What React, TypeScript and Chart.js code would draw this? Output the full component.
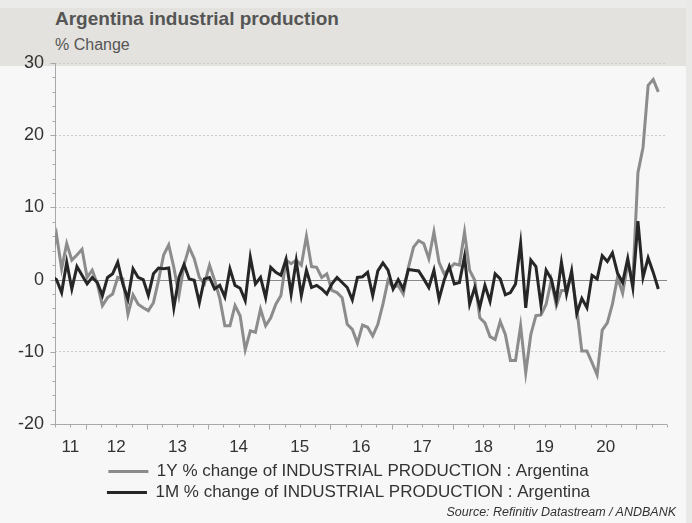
import React, { useEffect, useRef } from 'react';
import { Chart, registerables } from 'chart.js';

Chart.register(...registerables);

const titleText = 'Argentina industrial production';
const subtitleText = '% Change';
const sourceText = 'Source: Refinitiv Datastream / ANDBANK';
const seriesNames = [
  '1Y % change of INDUSTRIAL PRODUCTION : Argentina',
  '1M % change of INDUSTRIAL PRODUCTION : Argentina',
];

// monthly observations, first = June 2011
const startYear = 2011;
const startMonth = 6;

const yoyChange = [
  // 2011 Jun-Dec
  3.0, 6.2, 1.5, 5.0, 2.7, 3.4, 4.2,
  // 2012
  0.3, 1.3, -0.6, -3.6, -2.5, -2.0, 0.3, 0.1, -4.8, -2.1, -3.4, -3.9,
  // 2013
  -4.3, -3.2, -0.1, 3.4, 4.8, 1.7, -2.2, 2.0, 4.5, 2.9, 0.3, -0.6,
  // 2014
  2.0, -0.1, -2.6, -6.4, -6.4, -3.6, -5.0, -9.7, -7.1, -7.3, -4.1, -6.4,
  // 2015
  -5.3, -3.4, -2.2, 2.7, 2.2, 2.7, 2.0, 6.0, 1.8, 1.7, 0.3, 0.8,
  // 2016
  -1.5, -1.8, -2.5, -6.2, -6.9, -8.8, -6.3, -6.6, -7.8, -6.2, -3.4, -0.1,
  // 2017
  -1.1, -0.8, -2.0, 1.7, 4.5, 5.4, 5.0, 2.9, 6.6, 2.4, 0.8, 1.5,
  // 2018
  2.2, 2.0, 6.6, 1.3, -0.1, -5.3, -6.0, -7.9, -8.3, -5.8, -7.6, -11.2,
  // 2019
  -11.2, -6.4, -12.9, -7.6, -5.0, -4.9, -3.4, -0.1, -3.6, -1.5, -1.5, 0.8,
  // 2020
  -4.0, -9.9, -9.9, -11.5, -13.2, -7.0, -6.0, -3.4, 0.3, -1.9, 2.2, -0.1,
  // 2021 Jan-May
  14.8, 18.3, 26.9, 27.7, 26.0,
];

const momChange = [
  // 2011 Jun-Dec
  0.5, 0.0, -1.8, 2.4, -1.3, 1.8, 0.6,
  // 2012
  -0.6, 0.3, -0.4, -2.2, 0.3, 0.8, 2.4, -0.6, -2.7, 1.5, 0.3, 0.0,
  // 2013
  -2.2, 0.8, 1.6, 1.5, 1.6, -3.9, 0.3, 2.1, 0.1, -0.1, -3.2, 0.1,
  // 2014
  0.3, -1.3, -0.8, -2.4, 1.5, -0.8, -1.2, -2.9, 3.1, -0.6, 0.3, -2.5,
  // 2015
  1.7, 1.0, 0.6, 2.8, -2.0, 2.6, -2.2, 1.3, -1.1, -0.8, -1.3, -2.0,
  // 2016
  -0.6, 0.3, -0.4, -1.1, -2.8, 0.3, 0.4, 1.0, -2.2, 1.2, 2.3, 1.3,
  // 2017
  -1.3, 0.0, -1.3, 1.4, 1.3, 1.2, 0.1, -1.1, 1.3, -2.7, -0.1, 1.8,
  // 2018
  -0.6, -0.4, 3.2, -3.4, -1.1, -3.8, -0.8, -3.0, 0.8, 0.1, -2.1, -1.8,
  // 2019
  -0.6, 5.0, -3.9, 2.7, 1.8, -3.6, 1.3, 0.1, -2.9, 2.4, -2.0, 1.2,
  // 2020
  -4.7, -2.6, -3.9, 0.6, 0.1, 3.3, 2.5, 3.7, 0.9, -0.4, 2.9, -1.1,
  // 2021 Jan-May
  8.1, 0.3, 3.0, 1.0, -1.3,
];

const yearLabels = ['11', '12', '13', '14', '15', '16', '17', '18', '19', '20'];
const yearLabelPos = [2011.75, 2012.5, 2013.5, 2014.5, 2015.5, 2016.5, 2017.5, 2018.5, 2019.5, 2020.5];
const xMin = 2011.5;
const xMax = 2021.5;
const yMin = -20;
const yMax = 30;

const FONT = "'Liberation Sans', Arial, sans-serif";
const GRAY = '#8c8c8c';
const BLACK = '#262626';
const LEGEND_SHIFT = 15;

const monthX = (i: number) => startYear + (startMonth - 1 + i) / 12 + 0.025;

const axisPlugin = {
  id: 'axisDecor',
  afterLayout(chart: any) {
    const lg = chart.legend;
    if (lg) {
      lg.left += LEGEND_SHIFT;
      lg.right += LEGEND_SHIFT;
    }
  },
  beforeDatasetsDraw(chart: any) {
    const { ctx, chartArea: a, scales } = chart;
    const x = scales.x;
    const y = scales.y;
    const line = (x1: number, y1: number, x2: number, y2: number) => {
      ctx.beginPath();
      ctx.moveTo(x1, y1);
      ctx.lineTo(x2, y2);
      ctx.stroke();
    };
    ctx.save();
    ctx.lineWidth = 1;
    ctx.strokeStyle = '#8a8a8a';
    const y0 = Math.round(y.getPixelForValue(0)) + 0.5;
    line(a.left, y0, a.right, y0);
    ctx.strokeStyle = '#a8a8a8';
    const xl = Math.round(a.left) + 0.5;
    line(xl, a.top, xl, a.bottom);
    for (let v = yMin; v <= yMax; v += 2) {
      const py = Math.round(y.getPixelForValue(v)) + 0.5;
      const len = v % 10 === 0 ? 5 : 3;
      line(xl - len, py, xl, py);
    }
    const yb = Math.round(a.bottom) + 0.5;
    line(a.left, yb, a.right, yb);
    for (let q = Math.ceil(xMin * 4); q <= Math.floor(xMax * 4); q++) {
      const v = q / 4;
      const px = Math.round(x.getPixelForValue(v)) + 0.5;
      const len = q % 4 === 0 ? 5 : 3;
      line(px, yb, px, yb + len);
    }
    ctx.restore();
  },
};

function App() {
  const canvasRef = useRef<HTMLCanvasElement | null>(null);

  useEffect(() => {
    const canvas = canvasRef.current;
    if (!canvas) return;
    const chart = new Chart(canvas, {
      type: 'line',
      data: {
        datasets: [
          {
            label: seriesNames[0],
            data: yoyChange.map((v, i) => ({ x: monthX(i), y: v })),
            borderColor: GRAY,
            backgroundColor: GRAY,
            borderWidth: 3,
            pointRadius: 0,
            tension: 0,
            order: 2,
          },
          {
            label: seriesNames[1],
            data: momChange.map((v, i) => ({ x: monthX(i), y: v })),
            borderColor: BLACK,
            backgroundColor: BLACK,
            borderWidth: 3,
            pointRadius: 0,
            tension: 0,
            order: 1,
          },
        ],
      },
      options: {
        animation: false,
        responsive: false,
        maintainAspectRatio: false,
        layout: { padding: { top: 63, left: 0, right: 25, bottom: 12 } },
        plugins: {
          title: { display: false },
          tooltip: { enabled: false },
          legend: {
            position: 'bottom',
            align: 'center',
            labels: {
              boxWidth: 40,
              boxHeight: 3,
              padding: 4,
              color: '#333333',
              font: { family: FONT, size: 17 },
              sort: (a: any, b: any) => a.datasetIndex - b.datasetIndex,
              generateLabels: (c: any) =>
                Chart.defaults.plugins.legend.labels
                  .generateLabels(c)
                  .map((l: any) => ({ ...l, lineWidth: 0, fillStyle: l.strokeStyle })),
            },
          },
        },
        scales: {
          x: {
            type: 'linear',
            min: xMin,
            max: xMax,
            grid: { display: false, drawTicks: false },
            border: { display: false },
            afterBuildTicks: (s: any) => {
              s.ticks = yearLabelPos.map((v) => ({ value: v }));
            },
            afterFit: (s: any) => {
              s.height = 35;
            },
            ticks: {
              autoSkip: false,
              maxRotation: 0,
              padding: 13,
              color: '#333333',
              font: { family: FONT, size: 17 },
              callback: (_v: any, i: number) => yearLabels[i],
            },
          },
          y: {
            type: 'linear',
            min: yMin,
            max: yMax,
            grid: {
              drawTicks: false,
              color: (c: any) =>
                c.tick && (c.tick.value === 0 || c.tick.value === yMin) ? 'rgba(0,0,0,0)' : '#cccccc',
              lineWidth: 1,
            },
            border: { display: false, dash: [2, 2] },
            afterFit: (s: any) => {
              s.width = 55;
            },
            ticks: {
              stepSize: 10,
              padding: 11,
              color: '#333333',
              font: { family: FONT, size: 18 },
              callback: (v: any) => String(v),
            },
          },
        },
      },
      plugins: [axisPlugin],
    } as any);
    return () => chart.destroy();
  }, []);

  return (
    <div
      style={{
        position: 'fixed',
        left: 0,
        top: 0,
        width: 692,
        height: 523,
        background: '#f7f7f7',
        overflow: 'hidden',
        fontFamily: FONT,
      }}
    >
      <div style={{ position: 'absolute', left: 0, top: 0, width: 692, height: 8, background: '#ebebea' }} />
      <div style={{ position: 'absolute', left: 0, top: 8, width: 686, height: 58, background: '#e3e2de' }} />
      <div style={{ position: 'absolute', left: 686, top: 0, width: 6, height: 523, background: '#e9e9e8' }} />
      <div
        style={{
          position: 'absolute',
          left: 55,
          top: 8,
          fontSize: 19,
          fontWeight: 'bold',
          color: '#555555',
          whiteSpace: 'nowrap',
        }}
      >
        {titleText}
      </div>
      <div
        style={{
          position: 'absolute',
          left: 55,
          top: 36,
          fontSize: 16,
          color: '#555555',
          whiteSpace: 'nowrap',
        }}
      >
        {subtitleText}
      </div>
      <canvas
        ref={canvasRef}
        width={692}
        height={523}
        style={{ position: 'absolute', left: 0, top: 0, width: 692, height: 523 }}
      />
      <div
        style={{
          position: 'absolute',
          right: 16,
          top: 505,
          fontSize: 12.5,
          fontStyle: 'italic',
          color: '#333333',
          whiteSpace: 'nowrap',
        }}
      >
        {sourceText}
      </div>
    </div>
  );
}

export default App;
